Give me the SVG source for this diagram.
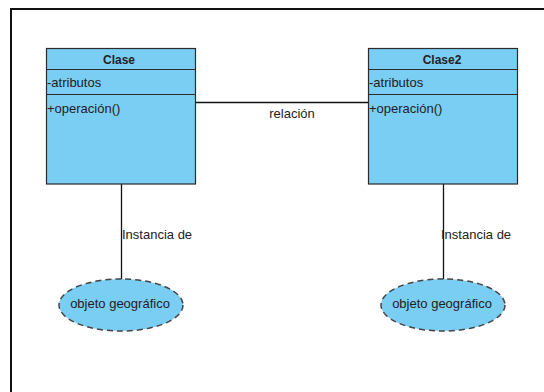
<svg xmlns="http://www.w3.org/2000/svg" width="544" height="392" viewBox="0 0 544 392">
<style>
.cls{fill:#7acdf3;stroke:#2b2b2b;stroke-width:1.2}
.div{stroke:#2b2b2b;stroke-width:1.2}
.t{font-family:"Liberation Sans",Arial,sans-serif;font-size:13px;fill:#222}
.b{font-weight:bold;font-size:12px;text-anchor:middle}
.obj{fill:#7acdf3;stroke:#444;stroke-width:1.5;stroke-dasharray:6,4}
.c{stroke:#111;stroke-width:1.3;fill:none}
</style>
<rect x="0" y="0" width="544" height="392" fill="#fff"/>
<rect x="11" y="9" width="560" height="420" fill="none" stroke="#111" stroke-width="2"/>
<g id="connectors">
<line class="c" x1="196" y1="102.5" x2="368" y2="102.5"/>
<text class="t" x="292" y="118" text-anchor="middle">relación</text>
<line class="c" x1="121.5" y1="184" x2="121.5" y2="279"/>
<text class="t" x="122" y="239">Instancia de</text>
<line class="c" x1="443.5" y1="184" x2="443.5" y2="279"/>
<text class="t" x="441" y="239">Instancia de</text>
</g>
<g id="clase">
<rect class="cls" x="46.5" y="48.5" width="149" height="135.5"/>
<line class="div" x1="46.5" y1="69.5" x2="195.5" y2="69.5"/>
<line class="div" x1="46.5" y1="94.5" x2="195.5" y2="94.5"/>
<text class="t b" x="119" y="64">Clase</text>
<text class="t" x="47" y="87">-atributos</text>
<text class="t" x="47" y="113">+operación()</text>
</g>
<g id="clase2">
<rect class="cls" x="368.5" y="48.5" width="149" height="135.5"/>
<line class="div" x1="368.5" y1="69.5" x2="517.5" y2="69.5"/>
<line class="div" x1="368.5" y1="94.5" x2="517.5" y2="94.5"/>
<text class="t b" x="442" y="64">Clase2</text>
<text class="t" x="369" y="87">-atributos</text>
<text class="t" x="369" y="113">+operación()</text>
</g>
<g id="objeto1">
<ellipse class="obj" cx="121" cy="305" rx="62" ry="26"/>
<text class="t" x="120" y="308" text-anchor="middle">objeto geográfico</text>
</g>
<g id="objeto2">
<ellipse class="obj" cx="443" cy="305" rx="62" ry="26"/>
<text class="t" x="442" y="308" text-anchor="middle">objeto geográfico</text>
</g>
</svg>
